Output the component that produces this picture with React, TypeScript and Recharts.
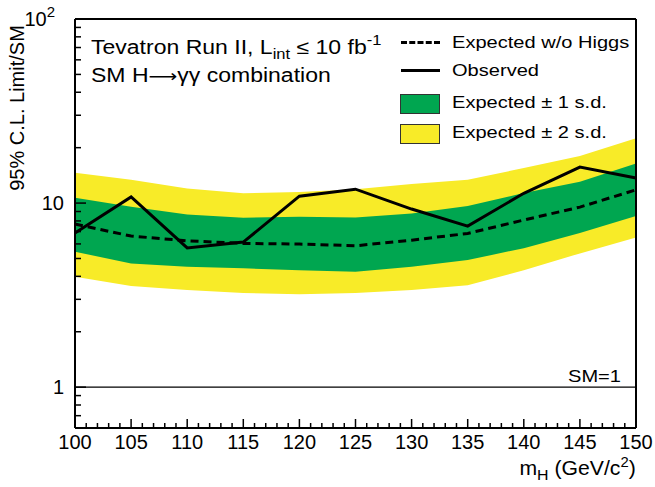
import React from "react";
import { ComposedChart, Area, Line, XAxis, YAxis, ReferenceLine } from "recharts";

const masses = [100, 105, 110, 115, 120, 125, 130, 135, 140, 145, 150];
const observed = [6.87, 10.8, 5.71, 6.14, 10.9, 11.9, 9.28, 7.5, 11.3, 15.7, 13.7];
const expected = [7.69, 6.62, 6.24, 6.04, 5.99, 5.86, 6.29, 6.84, 8.09, 9.51, 11.8];
const minus1sd = [5.44, 4.7, 4.51, 4.42, 4.32, 4.24, 4.51, 4.9, 5.69, 6.87, 8.5];
const plus1sd = [10.68, 9.55, 8.68, 8.32, 8.43, 8.36, 8.79, 9.63, 11.33, 13.05, 16.4];
const minus2sd = [3.98, 3.54, 3.37, 3.25, 3.2, 3.25, 3.37, 3.58, 4.32, 5.33, 6.51];
const plus2sd = [14.6, 13.4, 12.0, 11.3, 11.5, 11.9, 12.7, 13.4, 15.5, 18.0, 22.5];

const xTicks = Array.from({ length: 51 }, (_, i) => 100 + i);
const yTicks = [0.6, 0.7, 0.8, 0.9, 1, 2, 3, 4, 5, 6, 7, 8, 9, 10, 20, 30, 40, 50, 60, 70, 80, 90, 100];

const data = masses.map((m, i) => ({
  mass: m,
  obs: observed[i],
  exp: expected[i],
  band1: [minus1sd[i], plus1sd[i]],
  band2: [minus2sd[i], plus2sd[i]],
}));

const FONT = "'Liberation Sans', Arial, Helvetica, sans-serif";

function XTick(props: any) {
  const { x, y, payload } = props;
  const v = payload.value;
  const major = v % 5 === 0;
  return (
    <g>
      <line x1={x} x2={x} y1={y} y2={y - (major ? 9 : 5)} stroke="#000" strokeWidth={1.5} />
      {major && (
        <text x={x} y={y + 21} textAnchor="middle" fontSize={20} fontFamily={FONT} fill="#000">
          {v}
        </text>
      )}
    </g>
  );
}

function YTick(props: any) {
  const { x, y, payload } = props;
  const v = payload.value;
  const major = v === 1 || v === 10 || v === 100;
  return (
    <g>
      <line x1={x} x2={x + (major ? 11 : 6)} y1={y} y2={y} stroke="#000" strokeWidth={1.5} />
      {v === 1 && (
        <text x={x - 11} y={y + 7} textAnchor="end" fontSize={20} fontFamily={FONT} fill="#000">1</text>
      )}
      {v === 10 && (
        <text x={x - 11} y={y + 7} textAnchor="end" fontSize={20} fontFamily={FONT} fill="#000">10</text>
      )}
      {v === 100 && (
        <text x={x - 20} y={y + 7} textAnchor="end" fontSize={20} fontFamily={FONT} fill="#000">
          10
          <tspan dy={-9} fontSize={15}>2</tspan>
        </text>
      )}
    </g>
  );
}

// the reference text is a bit wider than it is tall
const wide = (size: number): React.CSSProperties => ({
  position: "absolute",
  fontFamily: FONT,
  fontSize: size,
  color: "#000",
  whiteSpace: "nowrap",
  lineHeight: 1,
  transform: "scaleX(1.18)",
  transformOrigin: "left center",
});

export default function App() {
  return (
    <div style={{ position: "absolute", left: 0, top: 0, width: 655, height: 487, background: "#fff" }}>
      <ComposedChart
        width={655}
        height={487}
        data={data}
        margin={{ top: 19, right: 19, bottom: 0, left: 0 }}
      >
        <XAxis
          dataKey="mass"
          type="number"
          domain={[100, 150]}
          ticks={xTicks}
          interval={0}
          height={59}
          tickSize={0}
          tickMargin={0}
          tickLine={false}
          tick={<XTick />}
          axisLine={{ stroke: "#000", strokeWidth: 2 }}
        />
        <YAxis
          scale="log"
          type="number"
          domain={[0.6, 100]}
          allowDataOverflow
          ticks={yTicks}
          interval={0}
          width={75}
          tickSize={0}
          tickMargin={0}
          tickLine={false}
          tick={<YTick />}
          axisLine={{ stroke: "#000", strokeWidth: 2 }}
        />
        <Area
          dataKey="band2"
          stroke="none"
          fill="#f8eb28"
          fillOpacity={1}
          isAnimationActive={false}
          activeDot={false}
        />
        <Area
          dataKey="band1"
          stroke="none"
          fill="#00a650"
          fillOpacity={1}
          isAnimationActive={false}
          activeDot={false}
        />
        <ReferenceLine y={1} stroke="#000" strokeWidth={1.2} />
        <ReferenceLine y={100} stroke="#000" strokeWidth={2} />
        <ReferenceLine x={150} stroke="#000" strokeWidth={2} />
        <Line
          dataKey="exp"
          stroke="#000"
          strokeWidth={3}
          strokeDasharray="8 5"
          dot={false}
          activeDot={false}
          isAnimationActive={false}
        />
        <Line
          dataKey="obs"
          stroke="#000"
          strokeWidth={3}
          dot={false}
          activeDot={false}
          isAnimationActive={false}
        />
      </ComposedChart>

      {/* y axis title */}
      <div
        style={{
          position: "absolute",
          fontFamily: FONT,
          fontSize: 20,
          whiteSpace: "nowrap",
          lineHeight: 1,
          left: 17,
          top: 108,
          transform: "translate(-50%, -50%) rotate(-90deg)",
        }}
      >
        95% C.L. Limit/SM
      </div>

      {/* x axis title */}
      <div
        style={{
          position: "absolute",
          fontFamily: FONT,
          fontSize: 20,
          whiteSpace: "nowrap",
          lineHeight: 1,
          right: 19,
          top: 455,
          transform: "scaleX(1.06)",
          transformOrigin: "right center",
        }}
      >
        m<sub style={{ fontSize: 15, verticalAlign: -5 }}>H</sub> (GeV/c
        <sup style={{ fontSize: 14, verticalAlign: 8 }}>2</sup>)
      </div>

      {/* text in plot */}
      <div style={{ ...wide(19.5), left: 91, top: 33 }}>
        Tevatron Run II, L<sub style={{ fontSize: 14, verticalAlign: -5 }}>int</sub> ≤ 10 fb
        <sup style={{ fontSize: 14, verticalAlign: 9 }}>-1</sup>
      </div>
      <div style={{ ...wide(19.5), left: 91, top: 66 }}>
        SM H<span style={{ fontFamily: "'DejaVu Sans', sans-serif", fontSize: 17 }}>⟶</span>γγ combination
      </div>

      {/* legend */}
      <div style={{ position: "absolute", left: 401, top: 41, width: 39, borderTop: "3px dashed #000" }} />
      <div style={{ ...wide(17), left: 452, top: 34 }}>Expected w/o Higgs</div>
      <div style={{ position: "absolute", left: 401, top: 69, width: 39, height: 3, background: "#000" }} />
      <div style={{ ...wide(17), left: 452, top: 62 }}>Observed</div>
      <div
        style={{
          position: "absolute",
          left: 400,
          top: 94,
          width: 38,
          height: 18,
          background: "#00a650",
          border: "1px solid #333",
        }}
      />
      <div style={{ ...wide(17), left: 452, top: 94 }}>Expected ± 1 s.d.</div>
      <div
        style={{
          position: "absolute",
          left: 400,
          top: 124,
          width: 38,
          height: 18,
          background: "#f8eb28",
          border: "1px solid #333",
        }}
      />
      <div style={{ ...wide(17), left: 452, top: 124 }}>Expected ± 2 s.d.</div>

      <div style={{ ...wide(17), left: 568, top: 368 }}>SM=1</div>
    </div>
  );
}
